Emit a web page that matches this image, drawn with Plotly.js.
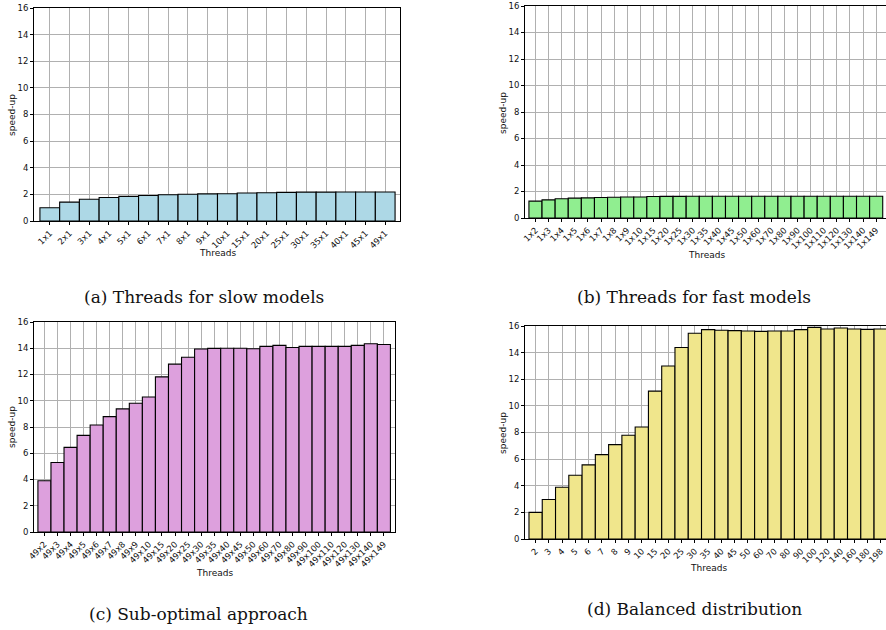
<!DOCTYPE html>
<html><head><meta charset="utf-8">
<script src="https://cdn.plot.ly/plotly-3.0.1.min.js"></script>
<style>html,body{margin:0;padding:0;background:#fff}#plot{width:886px;height:630px}</style>
</head><body><div id="plot"></div>
<script>
// (a) Threads for slow models
const slowCats = ['1x1','2x1','3x1','4x1','5x1','6x1','7x1','8x1','9x1','10x1','15x1','20x1','25x1','30x1','35x1','40x1','45x1','49x1'];
const slowVals = [1.0,1.42,1.63,1.77,1.85,1.92,1.97,2.01,2.04,2.05,2.10,2.12,2.15,2.17,2.17,2.18,2.18,2.18];
// (b) Threads for fast models
const fastCats = ['1x2','1x3','1x4','1x5','1x6','1x7','1x8','1x9','1x10','1x15','1x20','1x25','1x30','1x35','1x40','1x45','1x50','1x60','1x70','1x80','1x90','1x100','1x110','1x120','1x130','1x140','1x149'];
const fastVals = [1.27,1.37,1.45,1.50,1.52,1.55,1.57,1.58,1.58,1.62,1.63,1.63,1.64,1.64,1.64,1.64,1.64,1.64,1.64,1.64,1.64,1.64,1.64,1.64,1.64,1.64,1.64];
// (c) Sub-optimal approach
const subCats = ['49x2','49x3','49x4','49x5','49x6','49x7','49x8','49x9','49x10','49x15','49x20','49x25','49x30','49x35','49x40','49x45','49x50','49x60','49x70','49x80','49x90','49x100','49x110','49x120','49x130','49x140','49x149'];
const subVals = [3.9,5.3,6.45,7.36,8.15,8.79,9.38,9.81,10.29,11.82,12.79,13.32,13.94,13.99,14.0,14.0,13.96,14.14,14.22,14.06,14.14,14.14,14.14,14.14,14.22,14.34,14.29];
// (d) Balanced distribution
const balCats = ['2','3','4','5','6','7','8','9','10','15','20','25','30','35','40','45','50','60','70','80','90','100','120','140','160','180','198'];
const balVals = [2.0,2.97,3.89,4.79,5.57,6.34,7.09,7.79,8.41,11.11,13.0,14.38,15.45,15.73,15.68,15.65,15.63,15.6,15.63,15.63,15.73,15.9,15.78,15.85,15.78,15.75,15.78];

const captions = ['(a) Threads for slow models','(b) Threads for fast models','(c) Sub-optimal approach','(d) Balanced distribution'];
const yTitle = 'speed-up';
const xTitle = 'Threads';

const W = 886, H = 630;
const px = x => x / W;
const py = y => 1 - y / H;

const panels = [
  {cats: slowCats, vals: slowVals, color: '#add8e6', x0: 34, x1: 400, y0: 8, y1: 221, r: [-0.8, 17.75], full: true,
   yt: [12, 115], xt: [217, 253], cap: [204, 297]},
  {cats: fastCats, vals: fastVals, color: '#90ee90', x0: 525, x1: 886, y0: 6, y1: 218, r: [-0.8, 26.75], full: false,
   yt: [503, 113], xt: [706, 255], cap: [694, 297]},
  {cats: subCats, vals: subVals, color: '#dda0dd', x0: 34, x1: 395, y0: 322, y1: 532, r: [-0.8, 26.85], full: true,
   yt: [12, 427], xt: [214, 573], cap: [198, 614]},
  {cats: balCats, vals: balVals, color: '#f0e68c', x0: 525, x1: 886, y0: 326, y1: 539, r: [-0.8, 26.4], full: false,
   yt: [503, 433], xt: [708, 568], cap: [694, 609]}
];

const traces = [];
const layout = {
  width: W, height: H, margin: {l: 0, r: 0, t: 0, b: 0},
  paper_bgcolor: '#fff', plot_bgcolor: '#fff', showlegend: false, bargap: 0,
  font: {family: 'DejaVu Sans, sans-serif', color: '#000', size: 8},
  annotations: [], shapes: []
};
const tickFont = {family: 'DejaVu Sans, sans-serif', size: 8.5, color: '#111'};

panels.forEach((p, i) => {
  const n = i + 1;
  const xa = n === 1 ? 'x' : 'x' + n, ya = n === 1 ? 'y' : 'y' + n;
  traces.push({type: 'bar', x: p.cats, y: p.vals, xaxis: xa, yaxis: ya, width: 1,
    marker: {color: p.color, line: {color: '#000', width: 1.1}}});
  const xk = n === 1 ? 'xaxis' : 'xaxis' + n, yk = n === 1 ? 'yaxis' : 'yaxis' + n;
  layout[xk] = {domain: [px(p.x0), px(p.x1)], anchor: ya, type: 'category', range: p.r,
    tickangle: -45, tickfont: tickFont, ticks: 'outside', ticklen: 3, tickcolor: '#000',
    showgrid: true, gridcolor: '#b0b0b0', gridwidth: 1, showline: true, linecolor: '#000', linewidth: 1,
    mirror: true, zeroline: false, fixedrange: true};
  layout[yk] = {domain: [py(p.y1), py(p.y0)], anchor: xa, range: [0, 16], tickvals: [0,2,4,6,8,10,12,14,16],
    tickfont: tickFont, ticks: 'outside', ticklen: 3, tickcolor: '#000',
    showgrid: true, gridcolor: '#b0b0b0', gridwidth: 1, showline: true, linecolor: '#000', linewidth: 1,
    mirror: p.full ? true : false, zeroline: false, fixedrange: true};
  layout.annotations.push({xref: 'paper', yref: 'paper', x: px(p.yt[0]), y: py(p.yt[1]), text: yTitle,
    textangle: -90, showarrow: false, xanchor: 'center', yanchor: 'middle', font: {family: 'DejaVu Sans, sans-serif', size: 9, color: '#111'}});
  layout.annotations.push({xref: 'paper', yref: 'paper', x: px(p.xt[0]), y: py(p.xt[1]), text: xTitle,
    showarrow: false, xanchor: 'center', yanchor: 'middle', font: {family: 'DejaVu Sans, sans-serif', size: 9, color: '#111'}});
  layout.annotations.push({xref: 'paper', yref: 'paper', x: px(p.cap[0]), y: py(p.cap[1]), text: captions[i],
    showarrow: false, xanchor: 'center', yanchor: 'middle', font: {family: 'DejaVu Serif, serif', size: 17, color: '#111'}});
});

Plotly.newPlot('plot', traces, layout, {staticPlot: true, displayModeBar: false});
</script></body></html>
